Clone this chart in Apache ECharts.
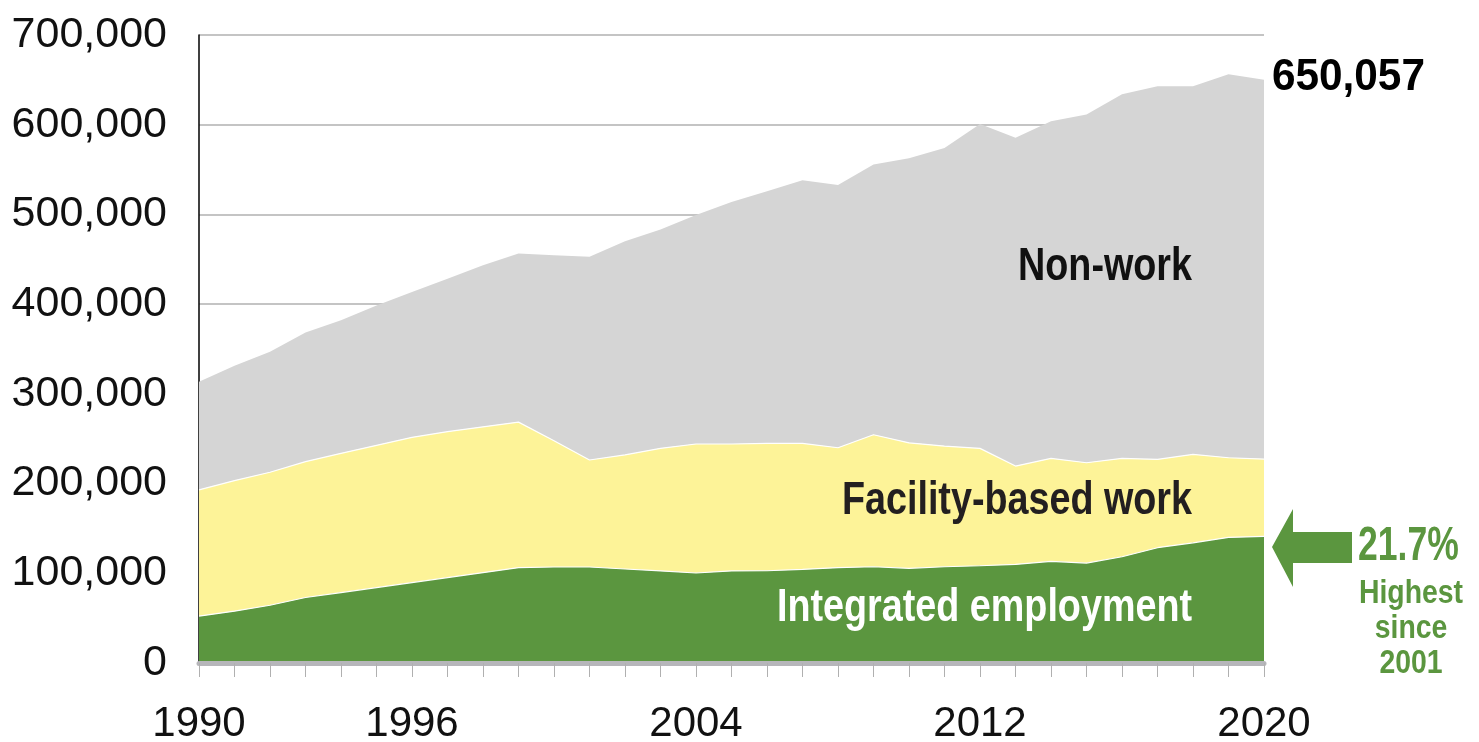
<!DOCTYPE html>
<html>
<head>
<meta charset="utf-8">
<script src="https://cdn.jsdelivr.net/npm/echarts@6/dist/echarts.min.js"></script>
<style>
  html, body { margin: 0; padding: 0; background: #ffffff; }
  #chart { width: 1479px; height: 742px; }
</style>
</head>
<body>
<div id="chart"></div>
<script>
// ---- Data ----
const years = ["1990","1991","1992","1993","1994","1995","1996","1997","1998","1999",
               "2000","2001","2002","2003","2004","2005","2006","2007","2008","2009",
               "2010","2011","2012","2013","2014","2015","2016","2017","2018","2019","2020"];

const integratedEmployment = [52200, 57800, 64400, 73000, 78500, 84100, 89600, 95200, 100700, 106300,
                              107000, 107000, 104800, 102600, 100300, 102600, 102800, 104300, 106200, 107300,
                              105500, 107300, 108400, 109900, 113300, 111400, 118400, 128500, 134000, 140000, 141100];

const facilityBasedWork = [140800, 145500, 148200, 151400, 155200, 158500, 161900, 162600, 162600, 162200,
                           140800, 119300, 127100, 136700, 143800, 141500, 142000, 140500, 133700, 147100,
                           139900, 134500, 130800, 109600, 114700, 111800, 109600, 98400, 98500, 88800, 86200];

const nonWork = [120400, 127900, 134400, 144000, 148400, 155900, 162000, 170600, 180100, 187900,
                 206700, 226400, 238200, 243800, 255400, 269800, 281000, 293300, 293000, 301200,
                 317200, 332300, 361600, 366100, 375800, 388100, 405900, 415900, 410300, 427400, 422757];

const xTickLabels = ["1990", "1996", "2004", "2012", "2020"];
const seriesNames = ["Integrated employment", "Facility-based work", "Non-work"];
const totalLabel = "650,057";
const shareLabel = "21.7%";
const shareNote = ["Highest", "since", "2001"];

// ---- Styles ----
const GREEN = "#5b963f";
const YELLOW = "#fdf398";
const GRAY = "#d5d5d5";
const FONT = "'Liberation Sans', Arial, sans-serif";

const chart = echarts.init(document.getElementById('chart'), null, { renderer: 'canvas' });

function label(text, x, y, size, color, align, sx) {
  return {
    type: 'text', x: x, y: y, z: 100, scaleX: sx,
    style: { text: text, font: "bold " + size + "px " + FONT, fill: color,
             textAlign: align, textVerticalAlign: 'middle' }
  };
}

const option = {
  animation: false,
  backgroundColor: '#ffffff',
  grid: { left: 199, right: 215, top: 35, bottom: 79, containLabel: false, outerBoundsMode: 'none' },
  xAxis: {
    type: 'category',
    data: years,
    boundaryGap: false,
    axisLine: { show: true, onZero: false, lineStyle: { color: '#b6b6ba', width: 5 } },
    axisTick: { show: true, interval: 0, length: 14, lineStyle: { color: '#b0b0b0', width: 1 } },
    axisLabel: {
      interval: (idx, val) => xTickLabels.includes(val),
      margin: 40,
      fontFamily: FONT,
      fontSize: 42,
      color: '#111111'
    },
    splitLine: { show: false },
    z: 5
  },
  yAxis: {
    type: 'value',
    min: 0,
    max: 700000,
    interval: 100000,
    axisLine: { show: true, lineStyle: { color: '#000000', width: 1.5 } },
    axisTick: { show: false },
    axisLabel: {
      margin: 32,
      fontFamily: FONT,
      fontSize: 43,
      color: '#111111',
      formatter: v => v.toLocaleString('en-US')
    },
    splitLine: { show: true, lineStyle: { color: '#b0b0b0', width: 1.5 } }
  },
  series: [
    {
      name: seriesNames[0],
      type: 'line',
      stack: 'total',
      data: integratedEmployment,
      symbol: 'none',
      lineStyle: { color: '#ffffff', width: 1.2 },
      areaStyle: { color: GREEN, opacity: 1 },
      z: 3
    },
    {
      name: seriesNames[1],
      type: 'line',
      stack: 'total',
      data: facilityBasedWork,
      symbol: 'none',
      lineStyle: { color: '#ffffff', width: 1.2 },
      areaStyle: { color: YELLOW, opacity: 1 },
      z: 2
    },
    {
      name: seriesNames[2],
      type: 'line',
      stack: 'total',
      data: nonWork,
      symbol: 'none',
      lineStyle: { width: 0 },
      areaStyle: { color: GRAY, opacity: 1 },
      z: 1
    }
  ],
  graphic: [
    label(seriesNames[2], 1192, 267, 46, '#111111', 'right', 0.82),
    label(seriesNames[1], 1192, 501, 46, '#231f20', 'right', 0.82),
    label(seriesNames[0], 1192, 608, 46, '#ffffff', 'right', 0.82),
    label(totalLabel, 1272, 78, 45, '#000000', 'left', 0.94),
    { type: 'polygon', z: 100,
      shape: { points: [[1272,547],[1293,509],[1293,532],[1352,532],[1352,563],[1293,563],[1293,587]] },
      style: { fill: GREEN } },
    label(shareLabel, 1358, 547, 48, GREEN, 'left', 0.74),
    label(shareNote[0], 1411, 594, 33, GREEN, 'center', 0.86),
    label(shareNote[1], 1411, 629, 33, GREEN, 'center', 0.86),
    label(shareNote[2], 1411, 664, 33, GREEN, 'center', 0.86)
  ]
};

chart.setOption(option);
</script>
</body>
</html>
